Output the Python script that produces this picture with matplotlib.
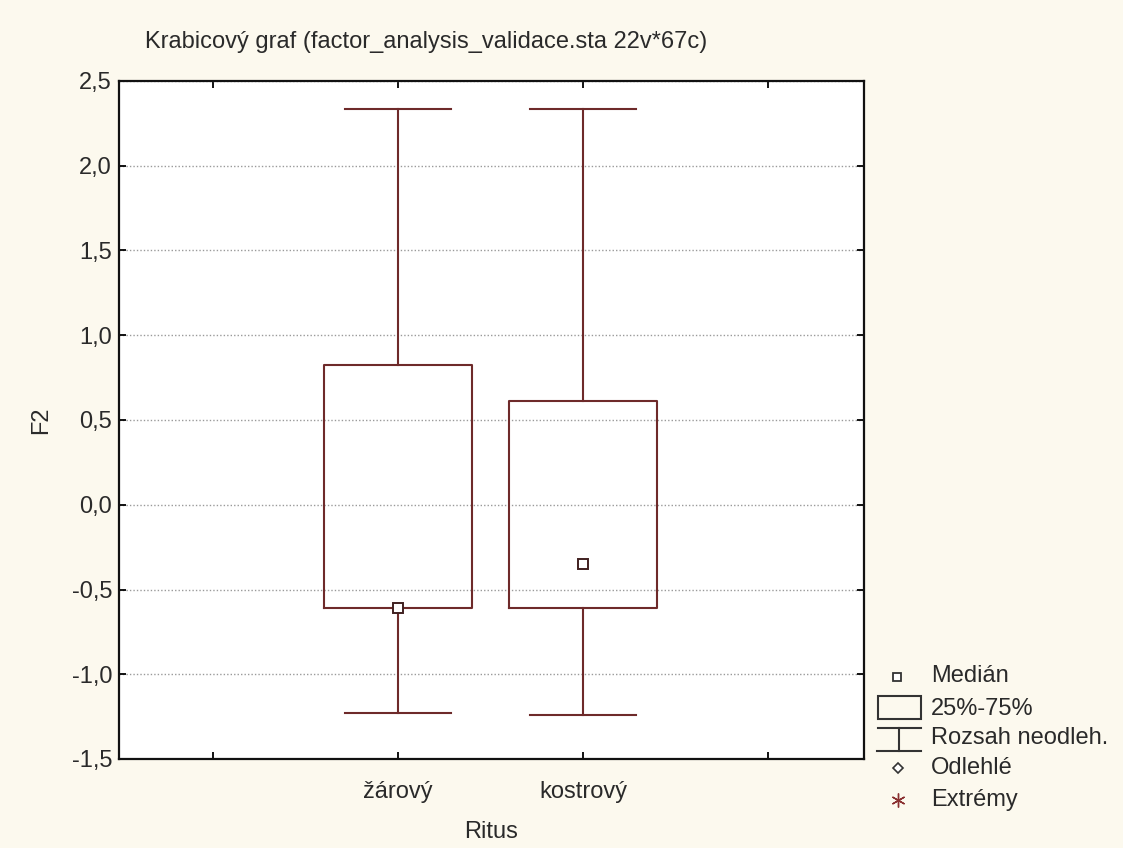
import matplotlib
matplotlib.use("Agg")
import matplotlib.pyplot as plt
from matplotlib.patches import Rectangle
from matplotlib.lines import Line2D

plt.rcParams['font.family'] = ['Liberation Sans', 'DejaVu Sans']

# ---- data ----
categories = ["žárový", "kostrový"]
medians = [-0.61, -0.35]
q1 = [-0.61, -0.61]
q3 = [0.824, 0.614]
whisker_low = [-1.23, -1.24]
whisker_high = [2.335, 2.335]
y_ticks = [-1.5, -1.0, -0.5, 0.0, 0.5, 1.0, 1.5, 2.0, 2.5]
y_tick_labels = ["-1,5", "-1,0", "-0,5", "0,0", "0,5", "1,0", "1,5", "2,0", "2,5"]
x_tick_labels = ["", "žárový", "kostrový", ""]
legend_labels = ["Medián", "25%-75%", "Rozsah neodleh.", "Odlehlé", "Extrémy"]
title = "Krabicový graf (factor_analysis_validace.sta 22v*67c)"

BG = '#FCF9EE'
LC = '#6E2A2A'
TC = '#2a2a2a'
FS = 17

fig = plt.figure(figsize=(11.23, 8.48), dpi=100, facecolor=BG)
ax = fig.add_axes([119/1123, 1 - 759/848, (864-119)/1123, (759-81)/848])
ax.set_facecolor('white')

positions = [1, 2]
stats = []
for i, c in enumerate(categories):
    stats.append(dict(label=c, med=medians[i], q1=q1[i], q3=q3[i],
                      whislo=whisker_low[i], whishi=whisker_high[i], fliers=[]))

ax.bxp(stats, positions=positions, widths=0.8, capwidths=0.57,
       showfliers=False, manage_ticks=False,
       boxprops=dict(color=LC, linewidth=1.5),
       whiskerprops=dict(color=LC, linewidth=1.5),
       capprops=dict(color=LC, linewidth=1.5),
       medianprops=dict(linestyle='none'))
ax.plot(positions, medians, linestyle='none', marker='s', markersize=7.5,
        markerfacecolor='white', markeredgecolor='#402020', markeredgewidth=1.4,
        zorder=5)

ax.set_xlim(-0.51, 3.52)
ax.set_ylim(-1.5, 2.5)
ax.set_xticks([0, 1, 2, 3])
ax.set_xticklabels(x_tick_labels, fontsize=FS, color=TC)
ax.set_yticks(y_ticks)
ax.set_yticklabels(y_tick_labels, fontsize=FS, color=TC)
ax.tick_params(direction='in', length=5, width=1.3, top=True, right=True)
ax.tick_params(axis='x', pad=16)
ax.tick_params(axis='y', pad=5)
ax.yaxis.grid(True, linestyle=(0, (1, 1.5)), color='#9a9a9a', linewidth=1.0)
ax.set_axisbelow(True)
for s in ax.spines.values():
    s.set_linewidth(1.6)
    s.set_color('#111111')

ax.set_ylabel("F2", fontsize=FS, color=TC, labelpad=14)
ax.set_xlabel("Ritus", fontsize=FS, color=TC, labelpad=13)
fig.text(145/1123, 1 - 42/848, title, fontsize=FS, color=TC,
         ha='left', va='center')

# ---- manual legend (figure pixel coords) ----
def fx(x):
    return x / 1123
def fy(y):
    return 1 - y / 848

tx = 931
ys = [676, 709, 738, 768, 800]
fig.add_artist(Line2D([fx(897)], [fy(677)], marker='s', markersize=6,
                      markerfacecolor='white', markeredgecolor='#333333',
                      markeredgewidth=1.3, linestyle='none'))
fig.add_artist(Rectangle((fx(878), fy(719)), fx(921) - fx(878), fy(696) - fy(719),
                         fill=False, edgecolor='#333333', linewidth=1.5,
                         transform=fig.transFigure))
fig.add_artist(Line2D([fx(878), fx(921)], [fy(728), fy(728)], color='#333333', linewidth=1.5))
fig.add_artist(Line2D([fx(899), fx(899)], [fy(728), fy(751)], color='#333333', linewidth=1.5))
fig.add_artist(Line2D([fx(877), fx(921)], [fy(751), fy(751)], color='#333333', linewidth=1.5))
fig.add_artist(Line2D([fx(898)], [fy(768)], marker='D', markersize=5.5,
                      markerfacecolor='white', markeredgecolor='#333333',
                      markeredgewidth=1.2, linestyle='none'))
fig.add_artist(Line2D([fx(898)], [fy(800)], marker=(6, 2, 0), markersize=10,
                      color='#8a3030', markeredgewidth=1.0, linestyle='none'))
for y, lab in zip(ys, legend_labels):
    fig.text(fx(tx), fy(y), lab, fontsize=FS, color=TC, ha='left', va='center')

fig.savefig("out.png", dpi=100, facecolor=BG)
